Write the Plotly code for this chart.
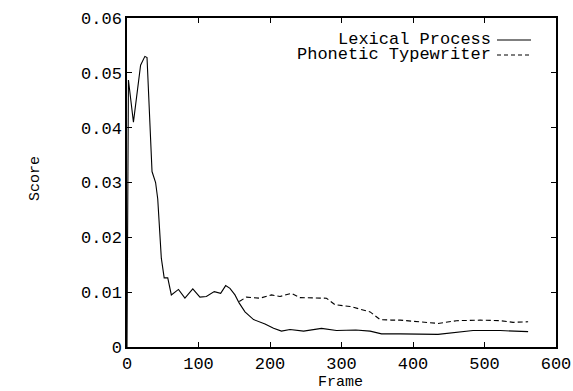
import plotly.graph_objects as go

# Lexical Process (solid)
lex_frame = [0, 2, 9, 19, 25, 28, 35, 40, 43, 48, 52, 57, 62, 72, 81, 92, 102, 111, 122, 131, 138, 144, 151, 157, 165, 177, 193, 205, 216, 228, 247, 272, 293, 320, 340, 356, 382, 435, 484, 522, 561]
lex_score = [0.0, 0.0487, 0.041, 0.0514, 0.053, 0.0528, 0.032, 0.030, 0.027, 0.0162, 0.0126, 0.0126, 0.0095, 0.0105, 0.0089, 0.0106, 0.0091, 0.0092, 0.0101, 0.0098, 0.0112, 0.0107, 0.0095, 0.0080, 0.0064, 0.0050, 0.0042, 0.0034, 0.0029, 0.0032, 0.0029, 0.0034, 0.0030, 0.0031, 0.0029, 0.0024, 0.0024, 0.0023, 0.0030, 0.0030, 0.0028]

# Phonetic Typewriter (dashed)
pt_frame = [157, 167, 186, 202, 214, 230, 242, 279, 291, 312, 340, 354, 370, 382, 435, 461, 494, 522, 540, 561]
pt_score = [0.0083, 0.0091, 0.0089, 0.0095, 0.0092, 0.0098, 0.0090, 0.0089, 0.0077, 0.0074, 0.0064, 0.0050, 0.0049, 0.0049, 0.0043, 0.0048, 0.0049, 0.0048, 0.0045, 0.0046]

x_ticks = [0, 100, 200, 300, 400, 500, 600]
y_ticks = [0, 0.01, 0.02, 0.03, 0.04, 0.05, 0.06]
y_tick_labels = ["0", "0.01", "0.02", "0.03", "0.04", "0.05", "0.06"]

FONT = "Liberation Mono, Courier New, monospace"

fig = go.Figure()
fig.add_trace(go.Scatter(x=lex_frame, y=lex_score, mode="lines", name="Lexical Process",
                         line=dict(color="black", width=1.1), showlegend=False))
fig.add_trace(go.Scatter(x=pt_frame, y=pt_score, mode="lines", name="Phonetic Typewriter",
                         line=dict(color="black", width=1.1, dash="5px,3px"), showlegend=False))

W, H = 573, 391
L, R, T, B = 127, 17, 18, 44
pw, ph = W - L - R, H - T - B

def px(xp):
    return (xp - L) / pw

def py(yp):
    return (H - B - yp) / ph

# legend drawn manually (text left of sample line)
legend_rows = [("Lexical Process", "solid", 40), ("Phonetic Typewriter", "4px,3px", 55)]
for name, dash, ypix in legend_rows:
    fig.add_annotation(x=px(493), y=py(ypix), xref="paper", yref="paper", text=name,
                       showarrow=False, xanchor="right", yanchor="middle",
                       font=dict(family=FONT, size=17, color="black"))
    fig.add_shape(type="line", xref="paper", yref="paper", x0=px(497), x1=px(531),
                  y0=py(ypix), y1=py(ypix), line=dict(color="black", width=1.1, dash=dash))

fig.add_annotation(x=px(35), y=py(179), xref="paper", yref="paper", text="Score", textangle=-90,
                   showarrow=False, xanchor="center", yanchor="middle",
                   font=dict(family=FONT, size=15, color="black"))
fig.add_annotation(x=px(340), y=py(382), xref="paper", yref="paper", text="Frame",
                   showarrow=False, xanchor="center", yanchor="middle",
                   font=dict(family=FONT, size=15, color="black"))

axis_common = dict(showline=True, linecolor="black", linewidth=1.5, mirror="ticks",
                   ticks="inside", ticklen=5, tickcolor="black", showgrid=False, zeroline=False,
                   automargin=False,
                   tickfont=dict(family=FONT, size=17, color="black"))
fig.update_xaxes(range=[0, 600], tickvals=x_ticks, **axis_common)
fig.update_yaxes(range=[0, 0.06], tickvals=y_ticks, ticktext=y_tick_labels, **axis_common)

fig.update_layout(width=W, height=H, margin=dict(l=L, r=R, t=T, b=B),
                  paper_bgcolor="white", plot_bgcolor="white",
                  font=dict(family=FONT, color="black"))

fig.write_html("out.html", config={"displayModeBar": False},
               post_script="document.body.style.margin='0';document.body.style.padding='0';")
